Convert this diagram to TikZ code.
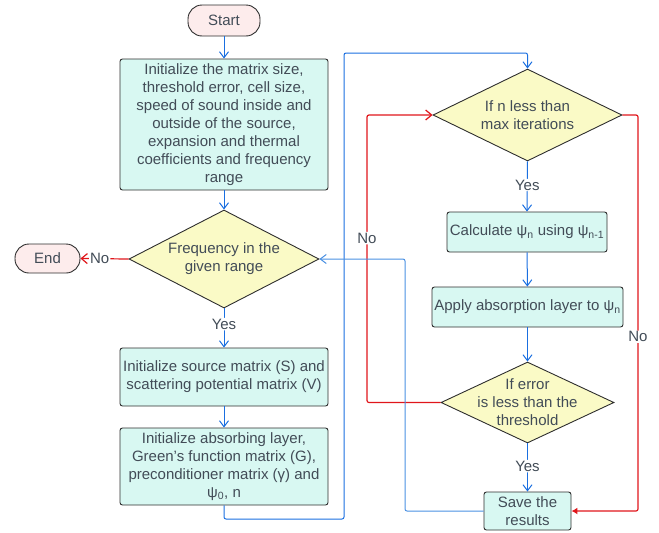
\documentclass[tikz,border=0pt]{standalone}
\usepackage{fontspec}
\setmainfont{Liberation Sans}[Ligatures=NoCommon]
\usetikzlibrary{shapes.geometric,arrows.meta,calc}
\definecolor{boxfill}{HTML}{D8F8F2}
\definecolor{diafill}{HTML}{FAFAC6}
\definecolor{pillfill}{HTML}{FDECEC}
\definecolor{txt}{HTML}{424C57}
\definecolor{edge}{HTML}{2E2E2E}
\definecolor{flowblue}{HTML}{1A6FE0}
\definecolor{backblue}{HTML}{4A90E2}
\definecolor{flowred}{HTML}{E0161B}
\begin{document}
\begin{tikzpicture}[x=1pt,y=-1pt,
  every node/.style={font=\fontsize{15}{18}\selectfont, text=txt},
  pill/.style={draw=edge, fill=pillfill, rounded corners=14pt, line width=0.9pt, inner sep=0pt},
  procbox/.style={draw=edge, fill=boxfill, rounded corners=2.5pt, line width=0.9pt, align=center, inner sep=0pt},
  decbox/.style={draw=edge, fill=diafill, diamond, line width=0.9pt, inner sep=0pt},
  blueflow/.style={draw=flowblue, line width=1pt, -{Straight Barb[length=6pt,width=9pt]}, rounded corners=2pt},
  backflow/.style={draw=backblue, line width=1pt, -{Straight Barb[length=6pt,width=9pt]}, rounded corners=2pt},
  redflow/.style={draw=flowred, line width=1.2pt, rounded corners=2pt},
  lbl/.style={fill=white, inner sep=1pt}
]
\useasboundingbox (0,0) rectangle (659,533);

% nodes
\node[pill, minimum width=72pt, minimum height=31pt] (start) at (224,20.5) {Start};
\node[procbox, minimum width=208pt, minimum height=131pt] (init) at (224,124.5)
  {Initialize the matrix size,\\threshold error, cell size,\\speed of sound inside and\\outside of the source,\\expansion and thermal\\coefficients and frequency\\range};
\node[decbox, minimum width=190pt, minimum height=98pt] (d1) at (224,259) {};
\node[align=center] (d1t) at (224,259) {Frequency in the\\given range};
\node[pill, minimum width=65pt, minimum height=29pt] (end) at (47.5,258.5) {End};
\node[procbox, minimum width=208pt, minimum height=58pt] (src) at (224,377)
  {Initialize source matrix (S) and\\scattering potential matrix (V)};
\node[procbox, minimum width=208pt, minimum height=77pt] (abs) at (224,466.5)
  {Initialize absorbing layer,\\Green{\char"0027}s function matrix (G),\\preconditioner matrix (γ) and\\ψ\textsubscript{0}, n};

\node[decbox, minimum width=189pt, minimum height=92pt] (d2) at (527.5,115) {};
\node[align=center] (d2t) at (527.5,115) {If n less than\\max iterations};
\node[procbox, minimum width=160pt, minimum height=40pt] (calc) at (527,232)
  {Calculate ψ\textsubscript{n} using ψ\textsubscript{n-1}};
\node[procbox, minimum width=191pt, minimum height=40pt] (apply) at (527.5,307)
  {Apply absorption layer to ψ\textsubscript{n}};
\node[decbox, minimum width=173pt, minimum height=81pt] (d3) at (527.5,402.5) {};
\node[align=center] (d3t) at (527.5,402.5) {If error\\is less than the\\threshold};
\node[procbox, minimum width=87pt, minimum height=38pt] (save) at (527.5,511)
  {Save the\\results};

% connectors
\draw[blueflow] (start) -- (init);
\draw[blueflow] (init) -- (d1);
\draw[redflow, -{Straight Barb[length=6pt,width=10pt]}] (d1.west) -- node[lbl, pos=0.6]{No} (end.east);
\draw[blueflow] (d1.south) -- node[lbl, pos=0.4]{Yes} (src.north);
\draw[blueflow] (src) -- (abs);
\draw[blueflow] (abs.south) |- (344,519) -- (344,53) -| (d2.north);
\draw[blueflow] (d2.south) -- node[lbl, pos=0.47]{Yes} (calc.north);
\draw[blueflow] (calc) -- (apply);
\draw[blueflow] (apply) -- (d3);
\draw[blueflow] (d3.south) -- node[lbl, pos=0.47]{Yes} (save.north);
\draw[redflow, -{Straight Barb[length=6pt,width=10pt]}] (d3.west) -| node[lbl, pos=0.786]{No} (367,115) -- (d2.west);
\draw[redflow, -{Latex[length=6pt,width=7pt]}] (d2.east) -- (638,115) |- node[lbl, pos=0.28]{No} (save.east);
\draw[backflow] (save.west) -| (405,259) -- (d1.east);
\end{tikzpicture}
\end{document}
